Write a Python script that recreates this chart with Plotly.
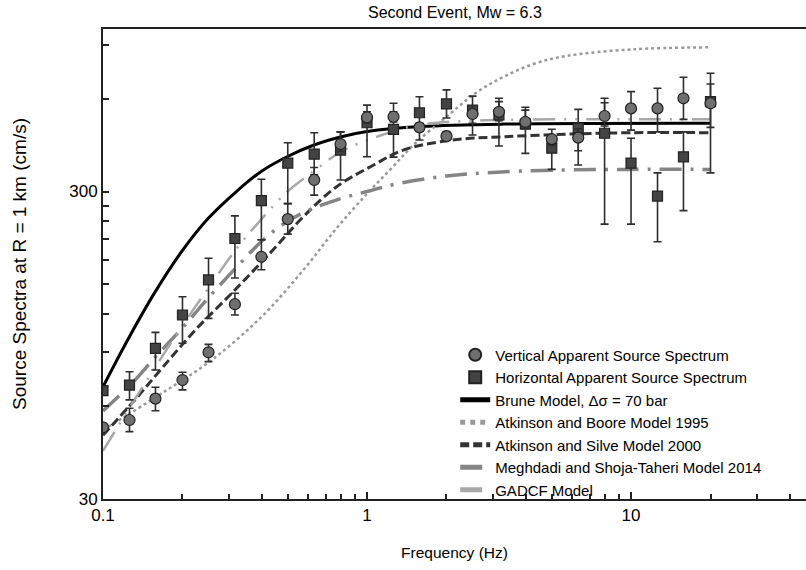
import plotly.graph_objects as go
import math

# ---------------- data ----------------
freq = [0.1, 0.126, 0.158, 0.2, 0.251, 0.316, 0.398, 0.501, 0.631, 0.794, 1.0, 1.26,
        1.58, 2.0, 2.51, 3.16, 3.98, 5.01, 6.31, 7.94, 10.0, 12.6, 15.8, 20.0]

vert = [51.3, 54.2, 63.6, 73.1, 90, 129, 184, 244, 327, 428, 523, 525,
        485, 454, 536, 545, 505, 444, 449, 528, 559, 559, 603, 581]
vert_lo = [51.3, 49.7, 58.1, 67.9, 83.9, 119, 167, 218, 292, 405, 500, 505,
           441, 440, 500, 510, 480, 425, 407, 490, 475, 469, 515, 485]
vert_hi = [51.3, 59.2, 69.3, 77.5, 95.5, 140, 209, 274, 359, 469, 545, 545,
           500, 470, 570, 588, 552, 478, 480, 603, 634, 650, 706, 671]

horiz = [67.5, 70.4, 92.7, 119, 154.7, 211, 280, 371, 397, 409, 502, 478,
         541, 578, 552, 532, 497, 415, 482, 464, 371, 290, 389, 588]
horiz_lo = [67.5, 63, 78.8, 96.3, 116, 157, 209, 274, 340, 327, 389, 388,
            485, 520, 458, 422, 399, 354, 366, 235, 235, 206, 260, 345]
horiz_hi = [67.5, 77.8, 104.5, 136.4, 182, 250, 329, 432, 466, 469, 573, 581,
            610, 642, 613, 603, 564, 430, 555, 583, 447, 345, 469, 727]

brune_f = [0.1, 0.125, 0.158, 0.2, 0.25, 0.32, 0.4, 0.5, 0.63, 0.8, 1.0, 1.6, 3.3, 20]
brune_v = [69.5, 100, 142, 193, 245, 300, 350, 390, 425, 452, 470, 488, 497, 500]

ab95_f = [0.1, 0.121, 0.167, 0.258, 0.399, 0.574, 0.767, 1.0, 1.23, 1.5, 2.0, 2.6,
          3.3, 4.36, 5.7, 10.2, 19.6]
ab95_v = [50.3, 55.6, 66.2, 84.9, 117.5, 166.7, 228, 295, 355, 425, 525, 630,
          709, 784, 828, 870, 883]

as00_f = [0.1, 0.132, 0.167, 0.223, 0.316, 0.44, 0.574, 0.767, 1.06, 1.37, 2.1, 3.3, 5.8, 10, 20]
as00_v = [48.4, 63, 79.8, 106, 143.5, 193.5, 248.5, 311, 366, 409, 441, 452, 461, 466, 466]

mst_f = [0.1, 0.13, 0.16, 0.2, 0.25, 0.32, 0.4, 0.5, 0.63, 0.8, 1.0, 1.3, 2.0, 3.0, 5.0, 10, 20]
mst_v = [58, 72, 88, 108, 135, 170, 207, 240, 265, 285, 300, 318, 337, 346, 352, 354, 354]

gadcf_f = [0.1, 0.13, 0.16, 0.2, 0.25, 0.32, 0.4, 0.5, 0.63, 0.8, 1.0, 1.3, 1.6, 2.0, 3.0, 5.0, 10, 20]
gadcf_v = [43, 62, 82, 110, 145, 195, 245, 300, 350, 405, 440, 475, 495, 505, 512, 515, 515, 515]

x_major = [0.1, 1, 10]
x_major_text = ["0.1", "1", "10"]
x_minor = [0.2, 0.3, 0.4, 0.5, 0.6, 0.7, 0.8, 0.9, 2, 3, 4, 5, 6, 7, 8, 9, 20, 30, 40]
y_major = [30, 300]
y_major_text = ["30", "300"]
y_minor = [60, 90, 120, 150, 180, 210, 240, 270, 600, 900]

FONT = "Arial, Liberation Sans, sans-serif"

fig = go.Figure()

def err(v, lo, hi):
    return dict(type="data", symmetric=False,
                array=[h - a for a, h in zip(v, hi)],
                arrayminus=[a - l for a, l in zip(v, lo)],
                color="#2e2e2e", thickness=1.6, width=4)

# model curves
fig.add_trace(go.Scatter(x=brune_f, y=brune_v, mode="lines", line_shape="spline",
                         name="Brune Model, \u0394\u03c3 = 70 bar",
                         line=dict(color="#000000", width=3), legendrank=3))
fig.add_trace(go.Scatter(x=ab95_f, y=ab95_v, mode="lines", line_shape="spline",
                         name="Atkinson and Boore Model 1995",
                         line=dict(color="#9a9a9a", width=2.5, dash="dot"), legendrank=4))
fig.add_trace(go.Scatter(x=as00_f, y=as00_v, mode="lines", line_shape="spline",
                         name="Atkinson and Silve Model 2000",
                         line=dict(color="#333333", width=3, dash="9px,4px"), legendrank=5))
fig.add_trace(go.Scatter(x=mst_f, y=mst_v, mode="lines", line_shape="spline",
                         name="Meghdadi and Shoja-Taheri Model 2014",
                         line=dict(color="#858585", width=3.5, dash="22px,9px,3px,9px"), legendrank=6))
fig.add_trace(go.Scatter(x=gadcf_f, y=gadcf_v, mode="lines", line_shape="spline",
                         name="GADCF Model",
                         line=dict(color="#a8a8a8", width=2.5, dash="22px,9px,2px,9px,2px,9px"), legendrank=7))

# apparent source spectra
fig.add_trace(go.Scatter(x=freq, y=horiz, mode="markers",
                         name="Horizontal Apparent Source Spectrum",
                         marker=dict(symbol="square", size=10, color="#434343",
                                     line=dict(color="#222222", width=1.2)),
                         error_y=err(horiz, horiz_lo, horiz_hi), legendrank=2))
fig.add_trace(go.Scatter(x=freq, y=vert, mode="markers",
                         name="Vertical Apparent Source Spectrum",
                         marker=dict(symbol="circle", size=11, color="#6f6f6f",
                                     line=dict(color="#222222", width=1.2)),
                         error_y=err(vert, vert_lo, vert_hi), legendrank=1))

fig.update_layout(
    width=806, height=570,
    margin=dict(l=103, r=0, t=29, b=71),
    paper_bgcolor="white", plot_bgcolor="white",
    font=dict(family=FONT, size=16, color="#000000"),
    title=dict(text="Second Event, Mw = 6.3", x=0.5644, xanchor="center",
               y=1 - 12 / 570, yanchor="middle", font=dict(size=16)),
    showlegend=True,
    legend=dict(x=0.501, xanchor="left", y=0.3415, yanchor="top",
                bgcolor="rgba(0,0,0,0)", font=dict(size=15),
                tracegroupgap=0, itemsizing="constant"),
)

fig.update_xaxes(type="log", range=[-1, math.log10(46)],
                 tickvals=x_major, ticktext=x_major_text,
                 ticks="inside", ticklen=7, tickwidth=1.5, tickcolor="#222",
                 minor=dict(tickvals=x_minor, ticks="inside", ticklen=5, tickwidth=1.5, tickcolor="#222"),
                 showline=True, linewidth=2, linecolor="#222", mirror=True,
                 showgrid=False, zeroline=False,
                 tickfont=dict(size=17),
                 title=dict(text="Frequency (Hz)", font=dict(size=15.5), standoff=23))
fig.update_yaxes(type="log", range=[math.log10(30), math.log10(1013)],
                 tickvals=y_major, ticktext=y_major_text,
                 ticks="inside", ticklen=6, tickwidth=1.5, tickcolor="#222",
                 minor=dict(tickvals=y_minor, ticks="inside", ticklen=6, tickwidth=1.5, tickcolor="#222"),
                 showline=True, linewidth=2, linecolor="#222", mirror=False,
                 showgrid=False, zeroline=False,
                 tickfont=dict(size=17),
                 title=dict(text="Source Spectra at R = 1 km (cm/s)", font=dict(size=19), standoff=38))

fig.write_html("out.html")
